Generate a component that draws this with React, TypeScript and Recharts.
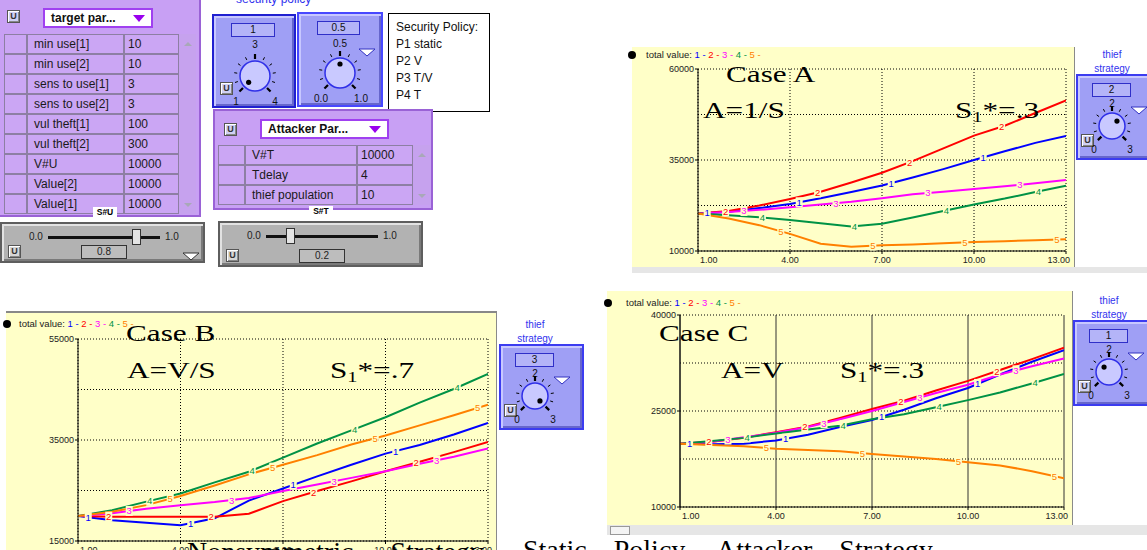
import React from "react";
import { LineChart, Line, XAxis, YAxis, CartesianGrid } from "recharts";

const TIME = [1, 2, 3, 4, 5, 6, 7, 8, 9, 10, 11, 12, 13];
const X_TICKS = [1, 4, 7, 10, 13];

const SERIES_NAMES = ["1", "2", "3", "4", "5"];
const SERIES_COLORS = ["#0000FF", "#FF0000", "#FF00FF", "#009245", "#FF8000"];
// the little curve numbers: first one at these times, then every 3 time units
const MARK_STARTS = [1.3, 1.9, 2.5, 3.1, 3.7];
const MARK_STEP = 3;

// Case A: A = 1/S
const caseA1 = [20300, 20800, 21800, 22900, 24500, 26200, 28000, 30200, 32500, 35000, 37400, 39700, 41600];
const caseA2 = [20300, 21000, 22500, 24300, 26300, 28800, 31500, 34700, 38200, 41700, 44400, 47900, 51400];
const caseA3 = [20300, 20700, 21300, 22000, 22800, 23500, 24500, 25600, 26300, 27000, 27800, 28600, 29500];
const caseA4 = [20300, 19800, 19300, 18500, 17600, 16700, 17500, 19200, 21000, 22800, 24400, 26200, 27900];
const caseA5 = [20300, 18900, 17100, 14700, 12000, 11200, 11600, 11800, 12100, 12500, 12700, 12950, 13200];
const CASE_A_Y_TICKS = [10000, 22500, 35000, 47500, 60000];
const CASE_A_Y_LABELS = [10000, 35000, 60000];

// Case B: A = V/S
const caseB1 = [19950, 19100, 18600, 18100, 19500, 23000, 25400, 27800, 30100, 32300, 34000, 36100, 38400];
const caseB2 = [19950, 19800, 19800, 19800, 19800, 20400, 22900, 24900, 26800, 28800, 30700, 32600, 34600];
const caseB3 = [19950, 20500, 21400, 22100, 22700, 23500, 24900, 26200, 27500, 28800, 30300, 31700, 33300];
const caseB4 = [19950, 21100, 22800, 24400, 26600, 28700, 31500, 34300, 36900, 39500, 42400, 45100, 48100];
const caseB5 = [19950, 20800, 22100, 23900, 26000, 28200, 30100, 32000, 34100, 35900, 37900, 39900, 42000];
const CASE_B_Y_TICKS = [15000, 25000, 35000, 45000, 55000];
const CASE_B_Y_LABELS = [15000, 35000, 55000];

// Case C: A = V
const caseC1 = [19900, 19800, 19900, 20400, 21300, 22500, 23600, 25200, 27000, 28600, 30700, 32700, 34500];
const caseC2 = [19900, 20200, 20800, 21700, 22600, 23900, 25300, 26600, 28200, 29700, 31400, 33100, 34900];
const caseC3 = [19900, 20200, 20900, 21600, 22500, 23700, 25000, 26400, 27800, 29100, 30700, 32000, 33200];
const caseC4 = [19900, 20300, 20800, 21500, 22100, 22700, 23700, 24500, 25600, 26700, 27900, 29300, 30800];
const caseC5 = [19900, 19700, 19500, 19100, 18900, 18700, 18300, 17900, 17500, 17000, 16500, 15600, 14500];
const CASE_C_Y_TICKS = [10000, 17500, 25000, 32500, 40000];
const CASE_C_Y_LABELS = [10000, 25000, 40000];

// parameter tables
const TARGET_NAMES = ["min use[1]", "min use[2]", "sens to use[1]", "sens to use[2]", "vul theft[1]", "vul theft[2]", "V#U", "Value[2]", "Value[1]"];
const TARGET_VALUES = ["10", "10", "3", "3", "100", "300", "10000", "10000", "10000"];
const ATTACKER_NAMES = ["V#T", "Tdelay", "thief  population"];
const ATTACKER_VALUES = ["10000", "4", "10"];
const POLICY_LINES = ["Security Policy:", "P1 static", "P2 V", "P3 T/V", "P4 T"];

const SANS = '"Liberation Sans", Arial, sans-serif';
const SERIF = '"Liberation Serif", "Times New Roman", serif';
const YELLOW = "#FFFFC8";
const PURPLE = "#C8A0F4";
const PURPLE_EDGE = "#9A62D6";
const CELL_LINE = "#8D7FA3";
const KNOB_BG = "#9F9FF5";

function curveMarks(k: number) {
  const seen: { x: number; y: number }[] = [];
  return (p: any) => {
    const key = `mark-${k}-${p.index}`;
    seen[p.index] = { x: p.cx, y: p.cy };
    const prev = (p.points && p.points[p.index - 1]) || seen[p.index - 1];
    if (p.index === 0 || !prev) return <g key={key} />;
    const t0 = TIME[p.index - 1];
    const t1 = TIME[p.index];
    const out: React.ReactNode[] = [];
    for (let s = MARK_STARTS[k]; s <= TIME[TIME.length - 1]; s += MARK_STEP) {
      if (s >= t0 && s < t1) {
        const f = (s - t0) / (t1 - t0);
        const x = prev.x + f * (p.cx - prev.x);
        const y = prev.y + f * (p.cy - prev.y);
        out.push(
          <g key={s}>
            <rect x={x - 3.5} y={y - 5} width={7} height={10} fill={YELLOW} />
            <text x={x} y={y + 3.5} textAnchor="middle" fontSize={9.5} fontFamily={SANS} fill={SERIES_COLORS[k]}>
              {SERIES_NAMES[k]}
            </text>
          </g>
        );
      }
    }
    return <g key={key}>{out}</g>;
  };
}

const renderXTick = (p: any) => {
  const v = p.payload.value;
  const first = v === X_TICKS[0];
  const last = v === X_TICKS[X_TICKS.length - 1];
  const anchor = first ? "start" : last ? "end" : "middle";
  return (
    <g>
      <line x1={p.x} x2={p.x} y1={p.y - 4} y2={p.y - 1} stroke="#000" />
      <text x={p.x + (first ? 2 : last ? 4 : 0)} y={p.y + 8} textAnchor={anchor} fontSize={9} fontFamily={SANS} fill="#222">
        {v.toFixed(2)}
      </text>
    </g>
  );
};

const yTick = (labels: number[]) => (p: any) => {
  const v = p.payload.value;
  if (!labels.includes(v)) return <g />;
  return (
    <g>
      <line x1={p.x + 2} x2={p.x + 5} y1={p.y} y2={p.y} stroke="#000" />
      <text x={p.x + 1} y={p.y + 3} textAnchor="end" fontSize={9} fontFamily={SANS} fill="#222">
        {v}
      </text>
    </g>
  );
};

type CasePlotProps = {
  left: number;
  top: number;
  width: number;
  height: number;
  yTicks: number[];
  yLabels: number[];
  series: number[][];
  yAxisWidth: number;
  marginTop: number;
  xAxisHeight: number;
  solidVertical?: boolean;
};

function CasePlot(props: CasePlotProps) {
  const { left, top, width, height, yTicks, yLabels, series, yAxisWidth, marginTop, xAxisHeight, solidVertical } = props;
  const data = TIME.map((t, i) => {
    const row: Record<string, number> = { t };
    series.forEach((s, k) => {
      row["s" + k] = s[i];
    });
    return row;
  });
  return (
    <div style={{ position: "absolute", left, top, width, height, background: YELLOW, overflow: "hidden" }}>
      <LineChart width={width} height={height} data={data} margin={{ top: marginTop, right: 9, bottom: 0, left: 0 }}>
        <CartesianGrid horizontal vertical={false} stroke="#000" strokeDasharray="1 2" />
        <CartesianGrid
          horizontal={false}
          vertical
          stroke={solidVertical ? "#333" : "#000"}
          strokeDasharray={solidVertical ? undefined : "1 2"}
        />
        <XAxis
          dataKey="t"
          type="number"
          domain={[1, 13]}
          ticks={X_TICKS}
          interval={0}
          height={xAxisHeight}
          tickSize={3}
          tickMargin={1}
          tickLine={false}
          axisLine={{ stroke: "#000" }}
          tick={renderXTick}
          allowDataOverflow
        />
        <YAxis
          type="number"
          domain={[yTicks[0], yTicks[yTicks.length - 1]]}
          ticks={yTicks}
          interval={0}
          width={yAxisWidth}
          tickSize={3}
          tickMargin={2}
          tickLine={false}
          axisLine={{ stroke: "#000" }}
          tick={yTick(yLabels)}
          allowDataOverflow
        />
        {series.map((_, k) => (
          <Line
            key={k}
            type="linear"
            dataKey={"s" + k}
            stroke={SERIES_COLORS[k]}
            strokeWidth={2}
            dot={curveMarks(k)}
            activeDot={false}
            isAnimationActive={false}
          />
        ))}
      </LineChart>
      <div style={{ position: "absolute", right: 0, top: 0, width: 1, height, background: "#8a8a8a" }} />
    </div>
  );
}

function Header({ left, top }: { left: number; top: number }) {
  return (
    <div style={{ position: "absolute", left, top, fontFamily: SANS, fontSize: 9.5, lineHeight: "10px", whiteSpace: "nowrap", color: "#222" }}>
      total value:{" "}
      {SERIES_NAMES.map((n, k) => (
        <span key={n} style={{ color: SERIES_COLORS[k] }}>
          {n} -{" "}
        </span>
      ))}
    </div>
  );
}

function Big({ left, top, children }: { left: number; top: number; children: React.ReactNode }) {
  return (
    <div
      style={{
        position: "absolute",
        left,
        top,
        fontFamily: SERIF,
        fontSize: 24,
        lineHeight: "24px",
        whiteSpace: "nowrap",
        transform: "scaleX(1.3)",
        transformOrigin: "0 0",
        color: "#000",
      }}
    >
      {children}
    </div>
  );
}

const Sub = () => <span style={{ fontSize: "0.65em", verticalAlign: "-0.25em" }}>1</span>;

function Dot({ left, top }: { left: number; top: number }) {
  return <div style={{ position: "absolute", left, top, width: 8, height: 8, borderRadius: 4, background: "#000" }} />;
}

function UButton({ left, top, gray }: { left: number; top: number; gray?: boolean }) {
  return (
    <div
      style={{
        position: "absolute",
        left,
        top,
        width: 11,
        height: 11,
        border: "1px solid #555",
        background: gray ? "#D6D6D6" : "#D0D0F4",
        boxShadow: "inset 1px 1px 0 #fff, inset -1px -1px 0 #888",
        fontFamily: SANS,
        fontSize: 9,
        fontWeight: "bold",
        lineHeight: "11px",
        textAlign: "center",
        color: "#333",
      }}
    >
      U
    </div>
  );
}

function Label({ cx, top, text, size = 10 }: { cx: number; top: number; text: string; size?: number }) {
  return (
    <div style={{ position: "absolute", left: cx - 30, top, width: 60, textAlign: "center", fontFamily: SANS, fontSize: size, lineHeight: `${size + 1}px`, color: "#111" }}>
      {text}
    </div>
  );
}

function DownTriangle({ left, top, w = 16, h = 7, fill = "#fff", stroke = "#3030C0" }: { left: number; top: number; w?: number; h?: number; fill?: string; stroke?: string }) {
  return (
    <svg style={{ position: "absolute", left, top }} width={w + 2} height={h + 2}>
      <polygon points={`1,1 ${w + 1},1 ${w / 2 + 1},${h + 1}`} fill={fill} stroke={stroke} strokeWidth={1} />
    </svg>
  );
}

function Knob({ cx, cy, r, angle }: { cx: number; cy: number; r: number; angle: number }) {
  const size = r * 2 + 18;
  const c = size / 2;
  const ticks: React.ReactNode[] = [];
  for (let k = 0; k <= 10; k++) {
    const a = ((-135 + 27 * k) * Math.PI) / 180;
    const major = k === 0 || k === 5 || k === 10;
    const r1 = r + (major ? 2 : 3);
    const r2 = r + (major ? 7 : 6);
    ticks.push(
      <line
        key={k}
        x1={c + r1 * Math.sin(a)}
        y1={c - r1 * Math.cos(a)}
        x2={c + r2 * Math.sin(a)}
        y2={c - r2 * Math.cos(a)}
        stroke="#000"
        strokeWidth={major ? 2.2 : 1}
      />
    );
  }
  const da = (angle * Math.PI) / 180;
  return (
    <svg style={{ position: "absolute", left: cx - c, top: cy - c }} width={size} height={size}>
      {ticks}
      <circle cx={c} cy={c} r={r} fill="#C9C9FF" stroke="#2F2FE8" strokeWidth={1.5} />
      <circle cx={c + (r - 6) * Math.sin(da)} cy={c - (r - 6) * Math.cos(da)} r={2.6} fill="#000" />
    </svg>
  );
}

function Display({ left, top, w, text }: { left: number; top: number; w: number; text: string }) {
  return (
    <div
      style={{
        position: "absolute",
        left,
        top,
        width: w,
        height: 12,
        border: "1.5px solid #2F2FC8",
        background: "#B4B4F8",
        fontFamily: SANS,
        fontSize: 10,
        lineHeight: "12px",
        textAlign: "center",
        color: "#111",
      }}
    >
      {text}
    </div>
  );
}

function ThiefWidget({ left, top, value }: { left: number; top: number; value: number }) {
  const angle = -135 + (270 * value) / 3;
  return (
    <>
      <div style={{ position: "absolute", left: left + 6, top: top - 26, width: 60, textAlign: "center", fontFamily: SANS, fontSize: 10, lineHeight: "14px", color: "#3333EE" }}>
        thief
        <br />
        strategy
      </div>
      <div
        style={{
          position: "absolute",
          left,
          top,
          width: 81,
          height: 82,
          background: KNOB_BG,
          border: "2px solid #3C3CF0",
          boxShadow: "inset 2px 2px 0 #C8C8FF, inset -2px -2px 0 #6666CC",
        }}
      >
        <Display left={14} top={7} w={37} text={String(value)} />
        <Label cx={34} top={22} text="2" />
        <Knob cx={34} cy={50} r={13} angle={angle} />
        <UButton left={3} top={58} />
        <DownTriangle left={52} top={30} />
        <Label cx={16} top={68} text="0" />
        <Label cx={52} top={68} text="3" />
      </div>
    </>
  );
}

function ParamTable({ top, cols, names, values }: { top: number; cols: number[]; names: string[]; values: string[] }) {
  const cells: React.ReactNode[] = [];
  names.forEach((n, i) => {
    const y = top + i * 20;
    const texts = ["", n, values[i]];
    for (let c = 0; c < 3; c++) {
      cells.push(
        <div
          key={`${i}-${c}`}
          style={{
            position: "absolute",
            left: cols[c],
            top: y,
            width: cols[c + 1] - cols[c],
            height: 20,
            boxSizing: "border-box",
            border: `1px solid ${CELL_LINE}`,
            background: "#CBA6F4",
            fontFamily: SANS,
            fontSize: 12,
            lineHeight: "18px",
            paddingLeft: c === 1 ? 6 : 3,
            whiteSpace: "nowrap",
            overflow: "hidden",
            color: "#1a1a1a",
          }}
        >
          {texts[c]}
        </div>
      );
    }
  });
  const bottom = top + names.length * 20;
  const sx = cols[3];
  return (
    <>
      {cells}
      <div style={{ position: "absolute", left: sx, top, width: 17, height: bottom - top, background: "#C6A2EE" }} />
      <svg style={{ position: "absolute", left: sx + 5, top: top + 7 }} width={8} height={6}>
        <polygon points="0,5 4,1 8,5" fill="#A8A8B8" />
      </svg>
      <svg style={{ position: "absolute", left: sx + 5, top: bottom - 12 }} width={8} height={6}>
        <polygon points="0,1 4,5 8,1" fill="#A8A8B8" />
      </svg>
    </>
  );
}

function Dropdown({ left, top, w, text }: { left: number; top: number; w: number; text: string }) {
  return (
    <div
      style={{
        position: "absolute",
        left,
        top,
        width: w,
        height: 16,
        background: "#fff",
        border: "2px solid #A040F0",
        fontFamily: SANS,
        fontSize: 12,
        fontWeight: "bold",
        lineHeight: "16px",
        paddingLeft: 6,
        color: "#111",
        whiteSpace: "nowrap",
      }}
    >
      {text}
      <svg style={{ position: "absolute", right: 6, top: 5 }} width={12} height={7}>
        <polygon points="0,0 12,0 6,7" fill="#9900EE" />
      </svg>
    </div>
  );
}

function Slider({ left, top, w, h, thumb, value, triangle }: { left: number; top: number; w: number; h: number; thumb: number; value: string; triangle?: boolean }) {
  return (
    <div
      style={{
        position: "absolute",
        left,
        top,
        width: w - 4,
        height: h - 4,
        background: "#B2B2B2",
        border: "2px solid #5E5E5E",
        boxShadow: "inset 2px 2px 0 #E2E2E2, inset -2px -2px 0 #7a7a7a",
      }}
    >
      <div style={{ position: "absolute", left: 27, top: 7, fontFamily: SANS, fontSize: 10, color: "#222" }}>0.0</div>
      <div style={{ position: "absolute", left: 46, top: 12, width: 112, height: 3, background: "#111" }} />
      <div style={{ position: "absolute", left: thumb, top: 5, width: 7, height: 14, background: "#E4E4E4", border: "1px solid #333" }} />
      <div style={{ position: "absolute", left: 163, top: 7, fontFamily: SANS, fontSize: 10, color: "#222" }}>1.0</div>
      <UButton left={6} top={h - 20} gray />
      <div
        style={{
          position: "absolute",
          left: 79,
          top: h - 20,
          width: 44,
          height: 12,
          background: "#BDBDBD",
          border: "1.5px solid #333",
          fontFamily: SANS,
          fontSize: 10,
          lineHeight: "12px",
          textAlign: "center",
          color: "#222",
        }}
      >
        {value}
      </div>
      {triangle && <DownTriangle left={180} top={h - 13} stroke="#333" />}
    </div>
  );
}

export default function App() {
  return (
    <div style={{ position: "absolute", left: 0, top: 0, width: 1147, height: 550, overflow: "hidden", background: "#fff" }}>
      {/* target parameters table */}
      <div style={{ position: "absolute", left: 0, top: 0, width: 199, height: 215, background: PURPLE, borderRight: `2px solid ${PURPLE_EDGE}`, borderBottom: `2px solid ${PURPLE_EDGE}` }} />
      <UButton left={7} top={10} />
      <Dropdown left={43} top={8} w={100} text="target par..." />
      <ParamTable top={34} cols={[4, 27, 124, 179]} names={TARGET_NAMES} values={TARGET_VALUES} />
      <div style={{ position: "absolute", left: 93, top: 207, width: 24, height: 11, background: "#fff", fontFamily: SANS, fontSize: 8.5, fontWeight: "bold", lineHeight: "11px", textAlign: "center" }}>S#U</div>
      <Slider left={0} top={222} w={205} h={41} thumb={130} value="0.8" triangle />

      {/* security policy knobs */}
      <div style={{ position: "absolute", left: 236, top: -8, fontFamily: SANS, fontSize: 12, color: "#3333EE", whiteSpace: "nowrap" }}>security          policy</div>
      <div style={{ position: "absolute", left: 212, top: 14, width: 80, height: 90, background: KNOB_BG, border: "2px solid #2020D0", boxShadow: "inset 2px 2px 0 #C8C8FF, inset -2px -2px 0 #6666CC" }}>
        <Display left={17} top={7} w={42} text="1" />
        <Label cx={41} top={23} text="3" />
        <Knob cx={41} cy={60} r={15} angle={-135} />
        <UButton left={6} top={66} />
        <Label cx={22} top={80} text="1" />
        <Label cx={61} top={80} text="4" />
      </div>
      <div style={{ position: "absolute", left: 297, top: 12, width: 82, height: 91, background: KNOB_BG, border: "2px solid #4848FF", boxShadow: "inset 2px 2px 0 #C8C8FF, inset -2px -2px 0 #6666CC" }}>
        <Display left={18} top={7} w={41} text="0.5" />
        <Label cx={41} top={24} text="0.5" />
        <Knob cx={41} cy={59} r={15} angle={0} />
        <DownTriangle left={59} top={34} />
        <Label cx={22} top={79} text="0.0" />
        <Label cx={62} top={79} text="1.0" />
      </div>
      <div style={{ position: "absolute", left: 388, top: 13, width: 100, height: 97, border: "1px solid #000", background: "#fff" }}>
        {POLICY_LINES.map((l, i) => (
          <div key={l} style={{ position: "absolute", left: 7, top: 6 + i * 17, fontFamily: SANS, fontSize: 12, lineHeight: "14px", color: "#111", whiteSpace: "nowrap" }}>
            {l}
          </div>
        ))}
      </div>

      {/* attacker parameters table */}
      <div style={{ position: "absolute", left: 213, top: 109, width: 216, height: 97, background: PURPLE, border: `2px solid ${PURPLE_EDGE}` }} />
      <UButton left={224} top={123} />
      <Dropdown left={260} top={119} w={119} text="Attacker Par..." />
      <ParamTable top={145} cols={[218, 245, 357, 413]} names={ATTACKER_NAMES} values={ATTACKER_VALUES} />
      <div style={{ position: "absolute", left: 309, top: 206, width: 24, height: 10, background: "#fff", fontFamily: SANS, fontSize: 8.5, fontWeight: "bold", lineHeight: "10px", textAlign: "center" }}>S#T</div>
      <Slider left={218} top={221} w={205} h={46} thumb={66} value="0.2" />

      {/* Case A */}
      <CasePlot
        left={632}
        top={47}
        width={443}
        height={220}
        yTicks={CASE_A_Y_TICKS}
        yLabels={CASE_A_Y_LABELS}
        series={[caseA1, caseA2, caseA3, caseA4, caseA5]}
        yAxisWidth={66}
        marginTop={22}
        xAxisHeight={16}
      />
      <Dot left={628} top={51} />
      <Header left={646} top={50} />
      <div style={{ position: "absolute", left: 632, top: 267, width: 515, height: 6, background: "#E6E6E6" }} />
      <Big left={726} top={62}>Case A</Big>
      <Big left={703} top={98}>A=1/S</Big>
      <Big left={955} top={98}>
        S<Sub />*=.3
      </Big>
      <ThiefWidget left={1076} top={74} value={2} />

      {/* Case C */}
      <CasePlot
        left={607}
        top={291}
        width={466}
        height={234}
        yTicks={CASE_C_Y_TICKS}
        yLabels={CASE_C_Y_LABELS}
        series={[caseC1, caseC2, caseC3, caseC4, caseC5]}
        yAxisWidth={73}
        marginTop={24}
        xAxisHeight={18}
        solidVertical
      />
      <Dot left={604} top={299} />
      <Header left={626} top={298} />
      <div style={{ position: "absolute", left: 607, top: 525, width: 540, height: 10, background: "#E6E6E6" }} />
      <div style={{ position: "absolute", left: 610, top: 526, width: 18, height: 7, border: "1px solid #999", background: "#F4F4F4" }} />
      <Big left={659} top={321}>Case C</Big>
      <Big left={721} top={358}>A=V</Big>
      <Big left={840} top={358}>
        S<Sub />*=.3
      </Big>
      <ThiefWidget left={1073} top={320} value={1} />

      {/* Case B */}
      <CasePlot
        left={6}
        top={313}
        width={491}
        height={250}
        yTicks={CASE_B_Y_TICKS}
        yLabels={CASE_B_Y_LABELS}
        series={[caseB1, caseB2, caseB3, caseB4, caseB5]}
        yAxisWidth={72}
        marginTop={26}
        xAxisHeight={22}
      />
      <div style={{ position: "absolute", left: 6, top: 311, width: 491, height: 2, background: "#888" }} />
      <Dot left={3} top={320} />
      <Header left={19} top={319} />
      <Big left={126} top={321}>Case B</Big>
      <Big left={127} top={358}>A=V/S</Big>
      <Big left={330} top={358}>
        S<Sub />*=.7
      </Big>
      <ThiefWidget left={499} top={344} value={3} />

      {/* caption, cut by the bottom of the picture */}
      <div style={{ position: "absolute", left: 187, top: 538, fontFamily: SERIF, fontSize: 28, lineHeight: "28px", whiteSpace: "nowrap", wordSpacing: 30 }}>
        Nonsymmetric Strategy
      </div>
      <div style={{ position: "absolute", left: 523, top: 536, fontFamily: SERIF, fontSize: 28, lineHeight: "28px", whiteSpace: "nowrap", wordSpacing: 20 }}>
        Static Policy, Attacker Strategy
      </div>
    </div>
  );
}
